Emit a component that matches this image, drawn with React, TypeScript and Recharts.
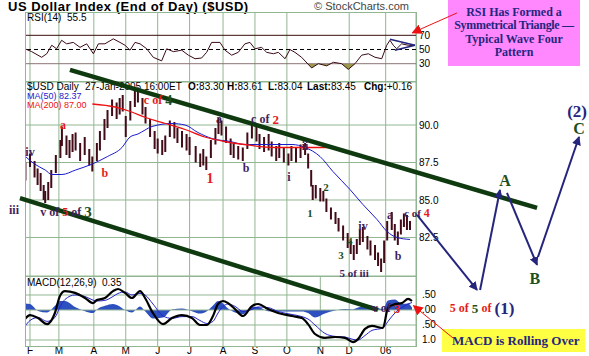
import React from 'react';
import { ComposedChart, Bar, Line, Area, Scatter, XAxis, YAxis, CartesianGrid, ReferenceLine } from 'recharts';

// x is a trading-day index, 0 = 1 Feb 2005
const monthTicks = [0, 19, 42, 63, 84, 105, 127, 148, 169, 191, 210, 234];
const monthLabels = ['F', 'M', 'A', 'M', 'J', 'J', 'A', 'S', 'O', 'N', 'D', '06'];

// daily bars (every 2-3 sessions)
const priceDays = [-3, 0, 3, 5, 7, 9, 10, 12, 14, 17, 20, 21, 24, 26, 28, 30, 33, 36, 39, 41, 44, 46, 49, 51, 54, 57, 59, 61, 63, 66, 69, 71, 74, 76, 79, 82, 84, 87, 89, 92, 95, 97, 100, 103, 105, 109, 112, 114, 116, 119, 122, 124, 126, 129, 132, 134, 137, 140, 143, 146, 149, 151, 154, 157, 159, 162, 164, 167, 170, 172, 175, 178, 181, 183, 185, 186, 188, 191, 193, 195, 198, 201, 203, 206, 209, 211, 213, 215, 217, 219, 222, 224, 227, 229, 231, 233, 235, 238, 240, 242, 244, 246, 248, 250];
const priceLow = [86.3, 87.2, 86.5, 86.0, 85.6, 85.0, 84.8, 85.0, 85.8, 86.8, 87.8, 88.6, 88.0, 87.8, 88.2, 88.3, 87.6, 88.0, 87.3, 86.9, 87.6, 88.3, 89.0, 89.8, 90.6, 90.4, 90.7, 90.9, 89.2, 90.3, 91.2, 91.5, 90.7, 90.1, 89.2, 88.4, 88.1, 88.0, 88.2, 89.2, 89.1, 88.8, 88.5, 88.3, 88.0, 87.5, 87.2, 87.3, 87.0, 87.8, 88.7, 89.4, 89.3, 88.8, 88.0, 87.8, 87.7, 87.6, 88.4, 89.1, 88.9, 88.4, 88.2, 88.3, 87.9, 87.6, 87.8, 87.5, 87.3, 87.6, 87.5, 87.8, 88.0, 87.1, 85.9, 85.0, 85.1, 84.9, 84.9, 84.2, 83.7, 83.4, 82.9, 82.3, 81.8, 81.4, 81.0, 81.4, 82.0, 82.2, 81.7, 81.3, 81.0, 80.6, 80.2, 80.8, 82.3, 83.0, 82.3, 82.0, 82.7, 83.2, 83.0, 83.0];
const priceHigh = [87.5, 88.1, 87.6, 87.1, 86.8, 86.0, 85.6, 86.2, 87.0, 88.0, 89.0, 89.9, 89.3, 89.0, 89.4, 89.5, 88.8, 89.2, 88.4, 87.9, 88.8, 89.6, 90.4, 91.0, 91.7, 91.5, 91.8, 92.0, 90.6, 91.6, 92.3, 92.5, 91.8, 91.2, 90.4, 89.6, 89.1, 89.0, 89.3, 90.3, 90.2, 89.8, 89.6, 89.4, 89.2, 88.6, 88.1, 88.4, 87.9, 89.0, 89.8, 90.5, 90.3, 89.9, 89.1, 88.8, 88.6, 88.5, 89.5, 90.2, 89.9, 89.4, 89.2, 89.4, 88.9, 88.6, 88.8, 88.5, 88.1, 88.6, 88.5, 88.7, 88.8, 88.1, 87.0, 86.0, 86.0, 85.8, 85.6, 85.1, 84.5, 84.2, 83.8, 83.3, 82.8, 82.3, 82.0, 82.4, 83.0, 83.2, 82.6, 82.3, 82.0, 81.5, 81.1, 82.3, 83.6, 84.2, 83.4, 82.9, 83.7, 84.1, 84.0, 83.6];

const ma50Days = [-3, 3, 10, 14.5, 21, 30, 41, 51, 60.5, 65.8, 71, 80.3, 93.4, 102, 110.5, 119.7, 131.6, 141.4, 156.6, 172.4, 181, 190.8, 199.3, 210.5, 219, 228.3, 234.9, 241.4, 250];
const ma50Values = [87.9, 87.4, 87.0, 86.7, 86.7, 87.0, 87.4, 87.9, 88.5, 89.2, 89.4, 89.9, 90.1, 90.0, 89.5, 89.1, 88.9, 88.7, 88.7, 88.7, 88.5, 87.9, 86.9, 85.7, 84.7, 83.7, 82.9, 82.5, 82.37];
const ma200Days = [41, 56, 66, 76, 89, 102, 115, 128, 141, 161, 181, 197, 210, 225, 240, 250];
const ma200Values = [91.4, 91.2, 90.9, 90.5, 90.1, 89.7, 89.2, 88.9, 88.7, 88.5, 88.5, 88.5, 88.1, 87.7, 87.25, 87.0];

const rsiDays = [-3.3, 1.1, 7.7, 11, 14.3, 17.5, 20.8, 24.1, 28.5, 32.9, 37.3, 41.7, 45, 49.3, 54.8, 59.2, 62.5, 65.8, 69.1, 72.4, 76.8, 81.1, 86.6, 89.9, 94.3, 99.8, 104.2, 108.6, 112.9, 116.2, 119.5, 125, 128.3, 132.7, 137, 141.4, 144.7, 148, 152.4, 155.7, 160.1, 163.4, 167.8, 171, 174.3, 178.7, 185.3, 189.7, 195.2, 199.6, 205, 209.4, 213.8, 218.2, 222.6, 227, 231.4, 234.7, 236.8, 239, 241.2, 244.5, 248.9, 252.2];
const rsiValues = [51, 47, 39, 44, 56, 51, 63, 58, 60, 53, 58, 44, 58, 58, 65, 60, 56, 49, 60, 58, 51, 39, 34, 51, 47, 49, 42, 37, 38, 46, 60, 60, 49, 42, 46, 58, 60, 51, 53, 46, 44, 46, 37, 50, 46, 39, 24, 30, 27, 32, 30, 22, 30, 42, 44, 39, 37, 56, 63, 56, 51, 58, 56, 55.5];
const rsiTicks = [30, 50, 70];
// symmetrical triangle drawn on the RSI
const triUpperDays = [236.8, 253.3];
const triUpperValues = [64.5, 56];
const triLowerDays = [240, 253.3];
const triLowerValues = [49, 56];

const macdDays = [-3.3, 0, 5.3, 11.2, 16.4, 19.7, 23, 29.6, 36.2, 41.4, 44, 49.3, 54.6, 57.9, 62.5, 67.1, 72.4, 75.7, 80.9, 87.5, 93.4, 100, 106.6, 111.8, 116.4, 120.4, 123.7, 127, 130.3, 134.9, 140.1, 146, 150, 156.6, 163.2, 172.4, 178.9, 182.9, 187.5, 194, 200.7, 207.2, 212.5, 215.8, 220.4, 225, 232.2, 235.5, 240.1, 244.7, 248.7, 251.3];
const macdValues = [-0.3, -0.17, -0.27, -0.47, -0.1, 0.47, 0.63, 0.57, 0.4, 0.23, 0.33, 0.4, 0.63, 0.7, 0.57, 0.4, 0.63, 0.4, -0.1, -0.47, -0.27, -0.17, -0.27, -0.5, -0.5, -0.2, 0.2, 0.3, 0.23, 0.03, -0.2, 0.13, 0.2, 0.03, -0.1, -0.2, -0.27, -0.47, -0.8, -0.93, -0.9, -0.93, -1.07, -0.97, -0.63, -0.53, -0.6, 0.07, 0.2, 0.23, 0.37, 0.3];
const signalValues = [-0.55, -0.35, -0.25, -0.38, -0.25, 0.1, 0.35, 0.5, 0.45, 0.33, 0.3, 0.32, 0.45, 0.55, 0.6, 0.5, 0.55, 0.5, 0.2, -0.2, -0.28, -0.22, -0.22, -0.35, -0.45, -0.38, -0.1, 0.12, 0.2, 0.12, -0.05, 0.02, 0.1, 0.08, -0.05, -0.15, -0.22, -0.3, -0.5, -0.78, -0.88, -0.9, -0.98, -1.0, -0.85, -0.68, -0.6, -0.38, -0.1, 0.08, 0.2, 0.25];
const histValues = [0.22, 0.2, -0.03, -0.08, 0.14, 0.3, 0.3, 0.1, -0.04, -0.1, 0.02, 0.14, 0.2, 0.15, 0.0, -0.08, 0.12, -0.04, -0.28, -0.25, 0.02, 0.05, -0.04, -0.12, -0.04, 0.15, 0.3, 0.22, 0.05, -0.08, -0.14, 0.1, 0.1, -0.04, -0.05, -0.05, -0.05, -0.1, -0.25, -0.12, -0.02, 0.03, 0.02, 0.08, 0.15, 0.14, 0.02, 0.32, 0.35, 0.2, 0.22, 0.08];
const macdTicks = [-1, -0.5, 0, 0.5];
const macdTickLabels = ['1.0', '.50', '.00', '.50'];

// hand-drawn annotations, in (day, price) units of the price panel
const trendUpperDays = [26.3, 333.6];
const trendUpperPrices = [93.67, 84.47];
const trendLowerDays = [-6.6, 228.9];
const trendLowerPrices = [85.13, 77.67];
const projDays = [[254.6, 294.1], [296.1, 309.2], [313.8, 333.6], [334.2, 361.2]];
const projPrices = [[84.0, 79.0], [79.0, 85.67], [85.47, 80.67], [81.2, 89.2]];
const calloutDays = [[280.9, 251.6], [278.3, 252.3]];
const calloutPrices = [[97.47, 96.15], [75.8, 77.95]];

const P = '#3f1f5e';
const R = '#e41b1b';
const G = '#1d4f1d';
const N = '#25257e';
const waveDays = [0, -10.5, 23.7, 21.7, 49.3, 84.2, 118.4, 124.3, 142.1, 154.6, 170.4, 180.9, 184.2, 194.7, 204.6, 210.5, 219.1, 213.2, 236.8, 242.1, 254.6, 234.2, 312.5, 332.2, 361.2, 359.9, 297.4];
const wavePrices = [88.2, 84.33, 84.2, 90.0, 86.8, 91.67, 86.47, 90.4, 87.13, 90.4, 86.53, 88.6, 84.13, 85.87, 81.33, 82.27, 83.27, 80.13, 84.0, 81.27, 84.15, 77.8, 86.33, 79.8, 89.8, 90.93, 77.8];
const waveTexts: [string, string, number][][] = [
  [['iv', P, 12]],
  [['iii', P, 12]],
  [['v of ', P, 12], ['5', R, 12], [' of ', P, 12], ['3', G, 15]],
  [['a', R, 12]],
  [['b', R, 12]],
  [['c of ', R, 12], ['4', G, 14]],
  [['1', R, 14]],
  [['a', P, 12]],
  [['b', P, 12]],
  [['c of ', P, 12], ['2', R, 13]],
  [['i', P, 12]],
  [['ii', P, 12]],
  [['1', G, 11]],
  [['2', G, 11]],
  [['3', G, 11]],
  [['4', G, 10]],
  [['iv', P, 12]],
  [['5 of iii', P, 11]],
  [['a', P, 12]],
  [['b', P, 12]],
  [['c of ', P, 11], ['4', R, 12]],
  [['v of ', P, 12], ['3', R, 13]],
  [['A', G, 16]],
  [['B', G, 16]],
  [['C', G, 16]],
  [['(2)', N, 17]],
  [['5 of ', R, 12], ['5 ', G, 13], ['of ', R, 12], ['(1)', N, 17]],
];

const GRID = '#92b692';
const X_DOMAIN: [number, number] = [-3.289, 253.95];
const MACD_DOMAIN: [number, number] = [-1.2, 1.133];
const SANS = '"Liberation Sans", Arial, sans-serif';
const SERIF = '"Liberation Serif", "Times New Roman", serif';
const TICK = { fontSize: 10, fill: '#000', fontFamily: SANS };

const pts = (days: number[], vals: number[]) => days.map((d, i) => ({ d, v: vals[i] }));

function RsiPanel() {
  return (
    <ComposedChart width={431} height={68} data={pts(rsiDays, rsiValues)} margin={{ top: 0, right: 0, bottom: 0, left: 0 }}>
      <defs>
        <linearGradient id="rsiLow" gradientUnits="userSpaceOnUse" x1="0" y1="0" x2="0" y2="68">
          <stop offset="0.745" stopColor="#9a9a48" stopOpacity={0} />
          <stop offset="0.745" stopColor="#9a9a48" stopOpacity={1} />
        </linearGradient>
      </defs>
      <CartesianGrid stroke={GRID} horizontal={false} />
      <XAxis type="number" dataKey="d" domain={X_DOMAIN} ticks={monthTicks} hide allowDataOverflow />
      <YAxis orientation="right" width={40} domain={[5.64, 101.4]} ticks={rsiTicks} interval={0} tickLine={false} axisLine={false} tickSize={0} tickMargin={3} tick={TICK} allowDataOverflow />
      <ReferenceLine y={70} stroke="#3a0c0c" />
      <ReferenceLine y={50} stroke="#000" strokeDasharray="4 3" />
      <ReferenceLine y={30} stroke="#8c7474" />
      <Area type="linear" dataKey="v" baseValue={30} fill="url(#rsiLow)" fillOpacity={1} stroke="none" isAnimationActive={false} />
      <Line type="linear" dataKey="v" stroke="#3a0a14" strokeWidth={1} dot={false} isAnimationActive={false} />
      <Line type="linear" data={pts(triUpperDays, triUpperValues)} dataKey="v" stroke={N} strokeWidth={1.6} dot={false} isAnimationActive={false} />
      <Line type="linear" data={pts(triLowerDays, triLowerValues)} dataKey="v" stroke={N} strokeWidth={1.6} dot={false} isAnimationActive={false} />
    </ComposedChart>
  );
}

// thin high-low stick centred on the day
function Stick(props: any) {
  const { x, y, width, height } = props;
  if (height == null || isNaN(height)) return null;
  return <rect x={x + width / 2 - 1} y={y} width={2} height={Math.max(1, height)} fill="#420b18" />;
}

function PricePanel() {
  const bars = priceDays.map((d, i) => ({ d, range: [priceLow[i], priceHigh[i]] }));
  return (
    <ComposedChart width={431} height={194} data={bars} margin={{ top: 0, right: 0, bottom: 0, left: 0 }}>
      <CartesianGrid stroke={GRID} />
      <XAxis type="number" dataKey="d" domain={X_DOMAIN} ticks={monthTicks} hide allowDataOverflow />
      <YAxis orientation="right" width={40} domain={[79.933, 92.867]} ticks={[82.5, 85, 87.5, 90]} interval={0} tickFormatter={(v: number) => v.toFixed(1)} tickLine={false} axisLine={false} tickSize={0} tickMargin={3} tick={TICK} allowDataOverflow />
      <Bar dataKey="range" fill="#420b18" barSize={2} shape={Stick} isAnimationActive={false} />
      <Line type="monotone" data={pts(ma50Days, ma50Values)} dataKey="v" stroke="#1a1acc" strokeWidth={1} dot={false} isAnimationActive={false} />
      <Line type="monotone" data={pts(ma200Days, ma200Values)} dataKey="v" stroke="#ee1111" strokeWidth={1.3} dot={false} isAnimationActive={false} />
    </ComposedChart>
  );
}

function MacdPanel() {
  const data = macdDays.map((d, i) => ({ d, macd: macdValues[i], signal: signalValues[i], hist: histValues[i] }));
  return (
    <ComposedChart width={431} height={80} data={data} margin={{ top: 0, right: 0, bottom: 0, left: 0 }}>
      <CartesianGrid stroke={GRID} horizontal={false} />
      <XAxis type="number" dataKey="d" domain={X_DOMAIN} ticks={monthTicks} tickFormatter={(v: number) => monthLabels[monthTicks.indexOf(v)]} height={10} tickLine={false} axisLine={false} tickSize={0} tickMargin={1} tick={TICK} interval={0} allowDataOverflow />
      <YAxis orientation="right" width={40} domain={MACD_DOMAIN} tick={false} tickLine={false} axisLine={false} allowDataOverflow />
      {macdTicks.map((v) => (
        <ReferenceLine key={v} y={v} stroke={GRID} />
      ))}
      <Area type="monotone" dataKey="hist" baseValue={0} fill="#2d4fbf" fillOpacity={1} stroke="none" isAnimationActive={false} />
      <Line type="monotone" dataKey="signal" stroke="#2424c8" strokeWidth={1} dot={false} isAnimationActive={false} />
      <Line type="monotone" dataKey="macd" stroke="#000" strokeWidth={2.2} dot={false} isAnimationActive={false} />
    </ComposedChart>
  );
}

function WaveLabel(props: any) {
  const { cx, cy, payload } = props;
  const parts = waveTexts[payload.i];
  return (
    <text x={cx} y={cy} textAnchor="middle" dominantBaseline="central" fontFamily={SERIF} fontWeight="bold">
      {parts.map(([t, c, s], k) => (
        <tspan key={k} fill={c} fontSize={s} style={{ whiteSpace: 'pre' }}>{t}</tspan>
      ))}
    </text>
  );
}

function Overlay() {
  const labels = waveDays.map((d, i) => ({ d, v: wavePrices[i], i }));
  return (
    <ComposedChart width={589} height={356} data={labels} margin={{ top: 0, right: 0, bottom: 0, left: 0 }}>
      <defs>
        <marker id="navyHead" markerWidth="9" markerHeight="9" refX="8" refY="4.5" orient="auto" markerUnits="userSpaceOnUse">
          <path d="M0,0 L9,4.5 L0,9 z" fill={N} />
        </marker>
        <marker id="redHead" markerWidth="10" markerHeight="10" refX="9" refY="5" orient="auto" markerUnits="userSpaceOnUse">
          <path d="M0,0 L10,5 L0,10 z" fill="#ee1111" />
        </marker>
      </defs>
      <XAxis type="number" dataKey="d" domain={[-19.737, 367.763]} hide allowDataOverflow />
      <YAxis type="number" dataKey="v" domain={[74.6, 98.333]} hide allowDataOverflow />
      <Line type="linear" data={pts(trendUpperDays, trendUpperPrices)} dataKey="v" stroke="#0f3a10" strokeWidth={4.5} dot={false} isAnimationActive={false} />
      <Line type="linear" data={pts(trendLowerDays, trendLowerPrices)} dataKey="v" stroke="#0f3a10" strokeWidth={4.5} dot={false} isAnimationActive={false} />
      {projDays.map((days, k) => (
        <Line key={'p' + k} type="linear" data={pts(days, projPrices[k])} dataKey="v" stroke={N} strokeWidth={2} dot={false} markerEnd="url(#navyHead)" isAnimationActive={false} />
      ))}
      {calloutDays.map((days, k) => (
        <Line key={'c' + k} type="linear" data={pts(days, calloutPrices[k])} dataKey="v" stroke="#ee1111" strokeWidth={1} dot={false} markerEnd="url(#redHead)" isAnimationActive={false} />
      ))}
      <Scatter dataKey="v" shape={WaveLabel} isAnimationActive={false} />
    </ComposedChart>
  );
}

const abs = (left: number, top: number, extra: React.CSSProperties = {}): React.CSSProperties => ({ position: 'absolute', left, top, ...extra });

export default function App() {
  const frame = { border: `1px solid ${GRID}`, boxSizing: 'border-box' as const, pointerEvents: 'none' as const };
  const hdr = { fontFamily: SANS, fontSize: 10, lineHeight: '10px', whiteSpace: 'pre' as const, color: '#000' };
  const ma = { ...hdr, fontSize: 9, lineHeight: '8.5px' };
  // MACD panel: plot spans 70px from the top of the panel (y = 276)
  const macdY = (v: number) => 276 + ((MACD_DOMAIN[1] - v) / (MACD_DOMAIN[1] - MACD_DOMAIN[0])) * 70;
  return (
    <div style={abs(0, 0, { width: 589, height: 356, background: '#fff', overflow: 'hidden' })}>
      <div style={abs(8, -1, { fontFamily: SANS, fontSize: 13, fontWeight: 'bold', lineHeight: '15px', letterSpacing: 0.5, whiteSpace: 'nowrap' })}>US Dollar Index (End of Day) ($USD)</div>
      <div style={abs(314, 0, { fontFamily: SANS, fontSize: 11, lineHeight: '12px', color: '#444' })}>© StockCharts.com</div>

      <div style={abs(25, 13)}><RsiPanel /></div>
      <div style={abs(25, 82)}><PricePanel /></div>
      <div style={abs(25, 276)}><MacdPanel /></div>

      <div style={abs(25, 12, { width: 392, height: 70, ...frame })} />
      <div style={abs(25, 81, { width: 392, height: 196, ...frame })} />
      <div style={abs(25, 276, { width: 392, height: 71, ...frame })} />

      {macdTicks.map((v, k) => (
        <div key={v} style={abs(422, macdY(v) - 5, hdr)}>{macdTickLabels[k]}</div>
      ))}

      <div style={abs(27, 13, hdr)}>RSI(14)  55.5</div>
      <div style={abs(27, 82, hdr)}>$USD Daily</div>
      <div style={abs(85, 82, hdr)}>27-Jan-2005 16:00ET</div>
      <div style={abs(188, 82, hdr)}><b>O:</b>83.30</div>
      <div style={abs(227, 82, hdr)}><b>H:</b>83.61</div>
      <div style={abs(268, 82, hdr)}><b>L:</b>83.04</div>
      <div style={abs(307, 82, hdr)}><b>Last:</b>83.45</div>
      <div style={abs(364, 82, hdr)}><b>Chg:</b>+0.16</div>
      <div style={abs(27, 92, { ...ma, color: '#1a1acc' })}>MA(50) 82.37</div>
      <div style={abs(27, 100.5, { ...ma, color: '#ee1111' })}>MA(200) 87.00</div>
      <div style={abs(27, 278, hdr)}>MACD(12,26,9)  0.35</div>

      <div style={abs(448, 0, { width: 132, height: 66, background: '#ff88ff', fontFamily: SERIF, fontWeight: 'bold', fontSize: 12, lineHeight: '13.3px', color: N, textAlign: 'center', paddingTop: 6, boxSizing: 'border-box', whiteSpace: 'nowrap' })}>
        RSI Has Formed a<br /><span style={{ letterSpacing: -0.3 }}>Symmetrical Triangle —</span><br />Typical Wave Four<br />Pattern
      </div>
      <div style={abs(442, 329, { width: 143, height: 23, background: '#ffff44', fontFamily: SERIF, fontWeight: 'bold', fontSize: 13, lineHeight: '23px', color: N, paddingLeft: 10, boxSizing: 'border-box' })}>
        MACD is Rolling Over
      </div>

      <div style={abs(0, 0, { pointerEvents: 'none' })}><Overlay /></div>
    </div>
  );
}
